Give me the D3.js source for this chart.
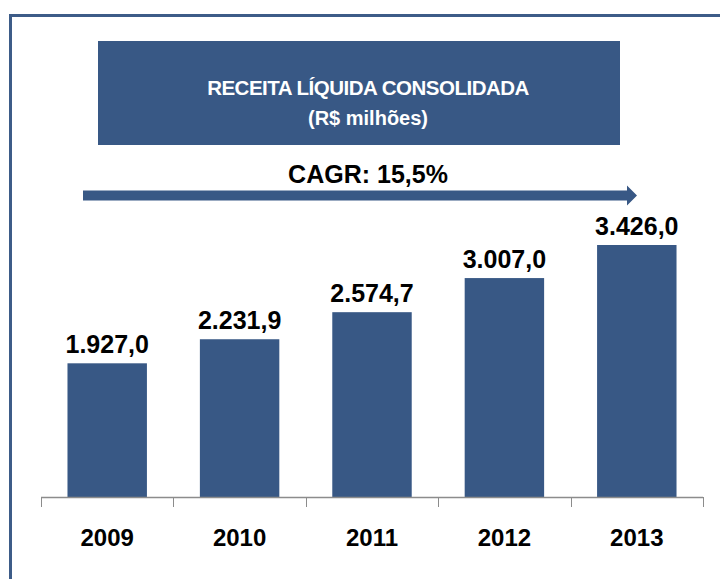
<!DOCTYPE html>
<html>
<head>
  <meta charset="utf-8">
  <title>Receita Líquida Consolidada</title>
  <script src="https://d3js.org/d3.v7.min.js"></script>
  <style>
    body { margin: 0; background: #fff; }
    text { font-family: "Liberation Sans", Arial, sans-serif; }
  </style>
</head>
<body>
  <script>
    // Data
    const years = ['2009', '2010', '2011', '2012', '2013'];
    const revenue = [1927.0, 2231.9, 2574.7, 3007.0, 3426.0];
    const title = 'RECEITA LÍQUIDA CONSOLIDADA';
    const subtitle = '(R$ milhões)';
    const cagr = 'CAGR: 15,5%';

    const width = 720;
    const height = 579;
    const blue = '#385885';

    const svg = d3.select('body').append('svg')
      .attr('width', width)
      .attr('height', height);

    // Frame (top and left edges only visible)
    svg.append('path')
      .attr('d', `M10.5,${height} V15.5 H${width}`)
      .attr('fill', 'none')
      .attr('stroke', '#3d5c88')
      .attr('stroke-width', 3);

    // Title box
    svg.append('rect')
      .attr('x', 98).attr('y', 41)
      .attr('width', 522).attr('height', 104)
      .attr('fill', blue);

    svg.append('text')
      .attr('x', 368).attr('y', 95)
      .attr('text-anchor', 'middle')
      .attr('fill', '#fff')
      .attr('font-weight', 'bold')
      .attr('font-size', 20.5)
      .attr('letter-spacing', -0.5)
      .text(title);

    svg.append('text')
      .attr('x', 368).attr('y', 125)
      .attr('text-anchor', 'middle')
      .attr('fill', '#fff')
      .attr('font-weight', 'bold')
      .attr('font-size', 20)
      .text(subtitle);

    // CAGR arrow
    svg.append('path')
      .attr('d', 'M83,190.5 H627 V185.5 L637,195.5 L627,205.5 V200.5 H83 Z')
      .attr('fill', blue);

    svg.append('text')
      .attr('x', 368).attr('y', 183)
      .attr('text-anchor', 'middle')
      .attr('fill', '#000')
      .attr('font-weight', 'bold')
      .attr('font-size', 25)
      .text(cagr);

    // Scales
    const x = d3.scaleBand()
      .domain(years)
      .range([41, 703])
      .paddingInner(0.4)
      .paddingOuter(0.2);

    const y = d3.scaleLinear()
      .domain([233, 3426])
      .range([497, 245]);

    // Bars
    svg.selectAll('.bar')
      .data(years)
      .enter().append('rect')
      .attr('class', 'bar')
      .attr('x', d => x(d))
      .attr('y', (d, i) => y(revenue[i]))
      .attr('width', x.bandwidth())
      .attr('height', (d, i) => y.range()[0] - y(revenue[i]))
      .attr('fill', blue);

    // Value labels
    const fmt = v => v.toFixed(1).replace('.', ',').replace(/\B(?=(\d{3})+(?!\d))/g, '.');
    svg.selectAll('.val')
      .data(years)
      .enter().append('text')
      .attr('class', 'val')
      .attr('x', d => x(d) + x.bandwidth() / 2)
      .attr('y', (d, i) => y(revenue[i]) - 10)
      .attr('text-anchor', 'middle')
      .attr('font-weight', 'bold')
      .attr('font-size', 25)
      .text((d, i) => fmt(revenue[i]));

    // Category axis with ticks on band boundaries
    const axisY = y.range()[0];
    const ax = svg.append('g');
    ax.append('line')
      .attr('x1', x.range()[0]).attr('x2', x.range()[1])
      .attr('y1', axisY + 0.5).attr('y2', axisY + 0.5)
      .attr('stroke', '#8c8c8c')
      .attr('stroke-width', 1.5);

    const bounds = d3.range(years.length + 1).map(i => x.range()[0] + i * x.step());
    ax.selectAll('.tick')
      .data(bounds)
      .enter().append('line')
      .attr('x1', d => Math.round(d) + 0.5).attr('x2', d => Math.round(d) + 0.5)
      .attr('y1', axisY).attr('y2', axisY + 10)
      .attr('stroke', '#8c8c8c')
      .attr('stroke-width', 1);

    ax.selectAll('.year')
      .data(years)
      .enter().append('text')
      .attr('x', d => x(d) + x.bandwidth() / 2)
      .attr('y', 546)
      .attr('text-anchor', 'middle')
      .attr('font-weight', 'bold')
      .attr('font-size', 24)
      .text(d => d);
  </script>
</body>
</html>
